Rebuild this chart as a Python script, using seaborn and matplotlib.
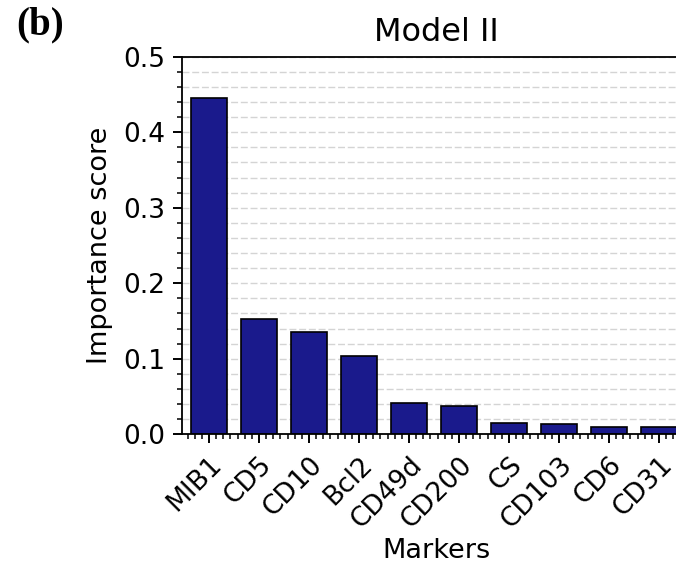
import matplotlib
matplotlib.use("Agg")
import matplotlib.pyplot as plt
from matplotlib.ticker import MultipleLocator
import seaborn as sns
import pandas as pd

markers = ["MIB1", "CD5", "CD10", "Bcl2", "CD49d", "CD200", "CS", "CD103", "CD6", "CD31"]
scores = [0.445, 0.1525, 0.1357, 0.1036, 0.041, 0.0374, 0.0153, 0.0142, 0.0101, 0.0097]
yticks = [0.0, 0.1, 0.2, 0.3, 0.4, 0.5]

df = pd.DataFrame({"Markers": markers, "Importance score": scores})

plt.rcParams["font.family"] = ["DejaVu Sans"]
fig = plt.figure(figsize=(6.76, 5.74), dpi=100)
W, H = 676, 574
left, right, top, bottom = 182.3, 691, 56.7, 434.3
ax = fig.add_axes([left / W, 1 - bottom / H, (right - left) / W, (bottom - top) / H])

sns.barplot(data=df, x="Markers", y="Importance score", color="#1a1a8c",
            saturation=1, edgecolor="black", linewidth=1.2, width=0.72, ax=ax)

x0 = -(209 - left) / 50
ax.set_xlim(x0, x0 + (right - left) / 50)
ax.set_ylim(0, 0.5)
ax.set_yticks(yticks)
ax.set_yticklabels([f"{v:.1f}" for v in yticks])
ax.yaxis.set_minor_locator(MultipleLocator(0.02))
ax.xaxis.set_minor_locator(MultipleLocator(1 / 7))

ax.set_axisbelow(True)
ax.yaxis.grid(True, which="both", linestyle=(0, (5, 2)), color="#d4d4d4", linewidth=1.0)
ax.xaxis.grid(False)

for s in ["left", "bottom", "top"]:
    ax.spines[s].set_linewidth(1.3)
    ax.spines[s].set_color("black")
ax.spines["right"].set_visible(False)

ax.tick_params(axis="both", which="major", direction="out", length=6.5, width=1.4,
               labelsize=19, pad=6)
ax.tick_params(axis="both", which="minor", direction="out", length=3.3, width=1.1)

plt.setp(ax.get_xticklabels(), rotation=45, ha="right", rotation_mode="anchor")

ax.set_title("Model II", fontsize=23, pad=11)
ax.set_xlabel("Markers", fontsize=19.5, labelpad=4)
ax.set_ylabel("Importance score", fontsize=19.5, labelpad=7)

fig.text(16 / W, 1 - 34 / H, "(b)", fontsize=28, fontweight="bold",
         family="Liberation Serif", ha="left", va="baseline")

fig.savefig("out.png", dpi=100)
